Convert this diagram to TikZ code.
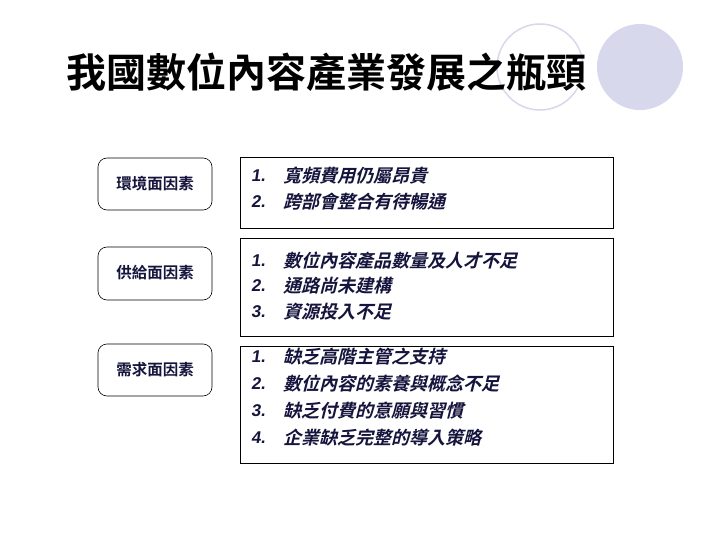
\documentclass[tikz,border=0pt]{standalone}
\usepackage{fontspec}
\setmainfont{Liberation Sans}
\newfontfamily\cjkb{Noto Sans CJK TC Bold}
\newfontfamily\cjki[FakeSlant=0.25]{Noto Sans CJK TC Bold}
\newfontfamily\numi[FakeSlant=0.15]{Liberation Sans Bold}
\definecolor{navy}{HTML}{14143C}
\definecolor{ring}{HTML}{D8D8EC}
\begin{document}
\begin{tikzpicture}[x=1pt,y=-1pt,
  lab/.style={draw=black,rounded corners=9pt,line width=0.6pt},
  box/.style={draw=black,line width=0.8pt},
  ltxt/.style={anchor=center,text=navy,font=\cjkb\fontsize{15.5}{15.5}\selectfont,inner sep=0},
  num/.style={anchor=west,text=navy,font=\numi\fontsize{17}{17}\selectfont,inner sep=0},
  itm/.style={anchor=west,text=navy,font=\cjki\fontsize{18}{18}\selectfont,inner sep=0}]
\useasboundingbox (0,0) rectangle (720,540);
\fill[white] (0,0) rectangle (720,540);
\draw[ring,line width=1.5pt] (540,67) circle (43);
\fill[ring] (640,67) circle (43);
\node[anchor=west,inner sep=0,font=\cjkb\fontsize{40}{40}\selectfont] (title) at (66,72) {我國數位內容產業發展之瓶頸};
% left labels
\draw[lab] (98,158) rectangle (212,210); \node[ltxt] (l1) at (155,184) {環境面因素};
\draw[lab] (98,247) rectangle (212,300); \node[ltxt] (l2) at (155,273) {供給面因素};
\draw[lab] (98,344) rectangle (212,396); \node[ltxt] (l3) at (155,370) {需求面因素};
% right boxes
\draw[box] (240,157) rectangle (613,228);
\draw[box] (240,238) rectangle (613,336);
\draw[box] (240,346) rectangle (613,463);
\foreach \n/\y/\t in {1/176/寬頻費用仍屬昂貴,2/202/跨部會整合有待暢通,
  1/261/數位內容產品數量及人才不足,2/286/通路尚未建構,3/312/資源投入不足,
  1/357/缺乏高階主管之支持,2/384/數位內容的素養與概念不足,3/411/缺乏付費的意願與習慣,4/438/企業缺乏完整的導入策略}{
  \node[num] at (251,\y) {\n.};
  \node[itm] at (283,\y) {\t};
}
\end{tikzpicture}
\end{document}
